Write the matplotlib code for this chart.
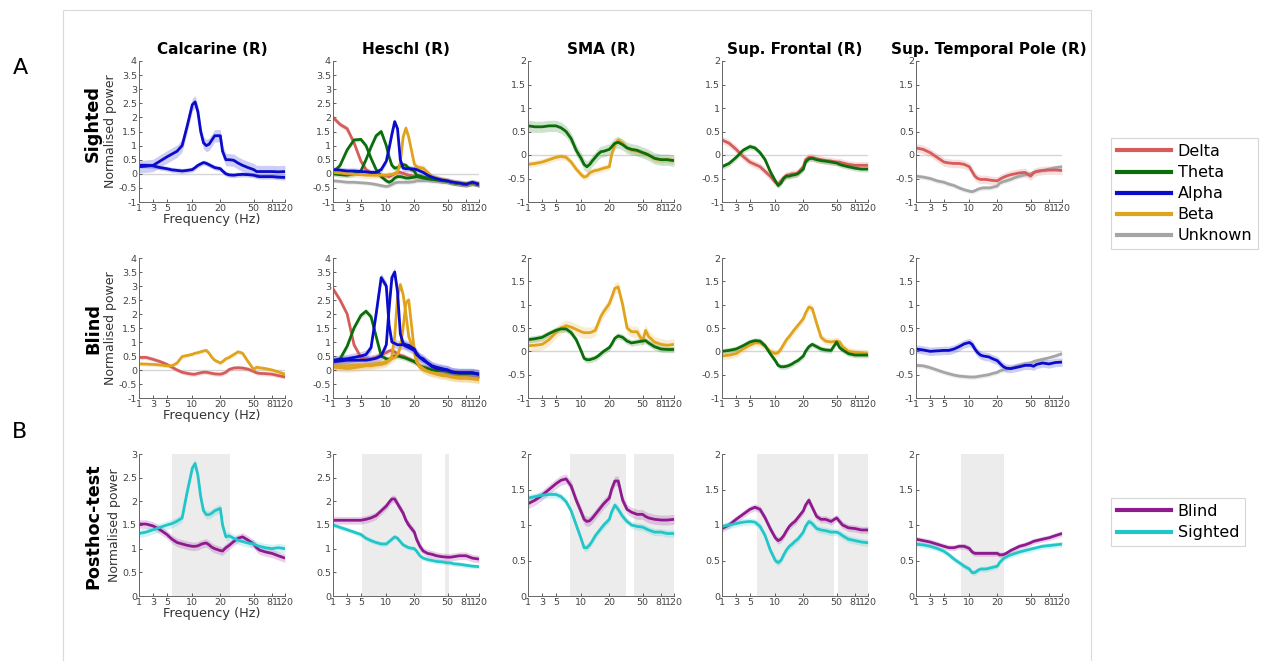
import numpy as np
import matplotlib
matplotlib.use("Agg")
import matplotlib.pyplot as plt
from matplotlib.patches import Rectangle
from matplotlib.lines import Line2D
from matplotlib.ticker import FuncFormatter

# frequency grid (Hz) on which all curves were read
F = [1, 2, 3, 4, 5, 6, 7, 8, 9, 10, 11, 12, 13, 14, 15, 16, 17, 18, 20, 22, 25, 28,
     32, 36, 40, 45, 50, 55, 60, 70, 81, 100, 120]

xtick_freqs = [1, 3, 5, 10, 20, 50, 81, 120]
xtick_pos = [0, .097, .191, .365, .557, .785, .911, 1]   # where the ticks sit along the axis

regions = ["Calcarine (R)", "Heschl (R)", "SMA (R)", "Sup. Frontal (R)", "Sup. Temporal Pole (R)"]
row_names = ["Sighted", "Blind", "Posthoc-test"]
band_names = ["Delta", "Theta", "Alpha", "Beta", "Unknown"]
group_names = ["Blind", "Sighted"]

# ---- sighted ----
s_calc_alpha1 = [0.25, 0.27, 0.3, 0.45, 0.6, 0.7, 0.8, 1.0, 1.7, 2.45, 2.55, 2.2, 1.5, 1.1, 1.0, 1.05, 1.2, 1.35, 1.35, 0.8, 0.5, 0.5,
                 0.48, 0.38, 0.3, 0.22, 0.15, 0.08, 0.08, 0.08, 0.08, 0.07, 0.08]
s_calc_alpha2 = [0.3, 0.3, 0.28, 0.22, 0.18, 0.14, 0.12, 0.1, 0.12, 0.15, 0.22, 0.3, 0.35, 0.4, 0.37, 0.32, 0.27, 0.22, 0.18, 0.1, 0.0, -0.04,
                 -0.05, -0.03, -0.02, -0.03, -0.05, -0.08, -0.1, -0.1, -0.1, -0.12, -0.13]

s_hes_delta = [2.0, 1.75, 1.6, 1.1, 0.45, 0.15, 0.02, -0.02, -0.05, -0.08, -0.1, -0.05, 0.0, 0.05, 0.05, 0.02, -0.02, -0.05, -0.08, -0.1, -0.1, -0.12,
               -0.15, -0.18, -0.2, -0.23, -0.25, -0.28, -0.3, -0.33, -0.35, -0.32, -0.35]
s_hes_theta1 = [0.05, 0.3, 0.85, 1.2, 1.22, 1.0, 0.55, 0.15, -0.1, -0.25, -0.3, -0.25, -0.15, -0.1, -0.1, -0.12, -0.15, -0.15, -0.12, -0.1, -0.12, -0.15,
                -0.18, -0.2, -0.22, -0.25, -0.27, -0.3, -0.32, -0.35, -0.38, -0.33, -0.4]
s_hes_theta2 = [0.0, -0.03, -0.05, 0.0, 0.1, 0.5, 0.95, 1.35, 1.5, 1.0, 0.6, 0.3, 0.2, 0.22, 0.28, 0.33, 0.3, 0.2, 0.1, -0.05, -0.08, -0.12,
                -0.15, -0.18, -0.2, -0.23, -0.26, -0.3, -0.32, -0.35, -0.37, -0.33, -0.38]
s_hes_alpha = [0.15, 0.13, 0.1, 0.1, 0.08, 0.07, 0.05, 0.05, 0.15, 0.45, 0.9, 1.4, 1.85, 1.6, 0.5, 0.2, 0.18, 0.18, 0.17, 0.15, 0.1, 0.05,
               -0.05, -0.12, -0.17, -0.22, -0.25, -0.28, -0.3, -0.33, -0.37, -0.3, -0.37]
s_hes_beta = [0.05, 0.03, 0.0, -0.02, -0.03, -0.05, -0.05, -0.05, -0.05, -0.05, -0.03, -0.02, 0.0, 0.05, 0.4, 1.3, 1.62, 1.3, 0.35, 0.25, 0.22, 0.2,
              0.05, -0.1, -0.15, -0.2, -0.25, -0.28, -0.3, -0.33, -0.36, -0.32, -0.36]
s_hes_unknown = [-0.25, -0.27, -0.3, -0.3, -0.32, -0.33, -0.35, -0.38, -0.42, -0.45, -0.43, -0.38, -0.33, -0.3, -0.3, -0.3, -0.3, -0.3, -0.28, -0.25, -0.25, -0.25,
                 -0.25, -0.27, -0.28, -0.3, -0.3, -0.32, -0.35, -0.38, -0.4, -0.36, -0.4]

s_sma_theta = [0.62, 0.6, 0.6, 0.62, 0.62, 0.58, 0.5, 0.35, 0.1, -0.08, -0.2, -0.25, -0.2, -0.12, -0.05, 0.02, 0.07, 0.08, 0.12, 0.17, 0.25, 0.27,
               0.22, 0.15, 0.12, 0.1, 0.05, 0.03, 0.0, -0.07, -0.1, -0.1, -0.12]
s_sma_beta = [-0.2, -0.18, -0.15, -0.1, -0.05, -0.03, -0.05, -0.15, -0.3, -0.42, -0.47, -0.45, -0.38, -0.35, -0.33, -0.32, -0.3, -0.28, -0.25, 0.0, 0.22, 0.32,
              0.25, 0.15, 0.1, 0.08, 0.05, 0.02, 0.0, -0.08, -0.1, -0.1, -0.12]

s_sf_delta = [0.32, 0.25, 0.12, -0.03, -0.15, -0.2, -0.25, -0.35, -0.45, -0.58, -0.62, -0.55, -0.48, -0.43, -0.42, -0.4, -0.4, -0.38, -0.25, -0.1, -0.05, -0.05,
              -0.08, -0.1, -0.12, -0.13, -0.15, -0.15, -0.17, -0.2, -0.22, -0.22, -0.22]
s_sf_theta = [-0.25, -0.18, -0.05, 0.1, 0.18, 0.15, 0.05, -0.1, -0.35, -0.55, -0.65, -0.6, -0.5, -0.45, -0.45, -0.43, -0.42, -0.4, -0.3, -0.15, -0.08, -0.07,
              -0.1, -0.12, -0.13, -0.15, -0.17, -0.2, -0.22, -0.25, -0.28, -0.3, -0.3]

s_stp_delta = [0.15, 0.12, 0.05, -0.05, -0.15, -0.17, -0.18, -0.18, -0.2, -0.25, -0.35, -0.45, -0.5, -0.52, -0.52, -0.52, -0.53, -0.54, -0.55, -0.52, -0.48, -0.45,
               -0.42, -0.4, -0.38, -0.37, -0.45, -0.38, -0.35, -0.33, -0.32, -0.32, -0.33]
s_stp_unknown = [-0.45, -0.47, -0.5, -0.55, -0.58, -0.62, -0.65, -0.7, -0.74, -0.77, -0.78, -0.76, -0.73, -0.71, -0.7, -0.7, -0.7, -0.69, -0.66, -0.6, -0.57, -0.55,
                 -0.52, -0.48, -0.45, -0.42, -0.4, -0.37, -0.35, -0.33, -0.3, -0.27, -0.25]

# ---- blind ----
b_calc_delta = [0.45, 0.45, 0.38, 0.3, 0.2, 0.1, 0.0, -0.08, -0.12, -0.15, -0.15, -0.12, -0.1, -0.08, -0.08, -0.1, -0.12, -0.14, -0.15, -0.13, -0.08, 0.02,
                0.07, 0.08, 0.07, 0.03, -0.05, -0.1, -0.12, -0.13, -0.15, -0.2, -0.25]
b_calc_beta = [0.22, 0.21, 0.2, 0.18, 0.15, 0.15, 0.25, 0.48, 0.52, 0.56, 0.6, 0.62, 0.65, 0.68, 0.7, 0.6, 0.45, 0.35, 0.25, 0.3, 0.4, 0.45,
               0.55, 0.65, 0.6, 0.3, 0.02, 0.1, 0.08, 0.05, 0.0, -0.07, -0.15]

b_hes_delta = [2.9, 2.5, 2.0, 0.9, 0.45, 0.4, 0.4, 0.45, 0.55, 0.62, 0.68, 0.7, 0.65, 0.58, 0.52, 0.5, 0.45, 0.4, 0.3, 0.25, 0.15, 0.1,
               0.05, 0.02, 0.0, 0.0, -0.02, -0.05, -0.08, -0.12, -0.12, -0.13, -0.18]
b_hes_theta = [0.3, 0.4, 0.85, 1.5, 1.95, 2.1, 1.9, 1.2, 0.5, 0.4, 0.38, 0.45, 0.5, 0.5, 0.48, 0.45, 0.42, 0.38, 0.3, 0.25, 0.15, 0.1,
               0.05, 0.0, -0.02, -0.02, -0.05, -0.08, -0.1, -0.12, -0.12, -0.12, -0.15]
b_hes_alpha1 = [0.35, 0.38, 0.4, 0.45, 0.5, 0.55, 0.8, 2.0, 3.3, 3.0, 1.6, 1.0, 0.95, 0.9, 0.9, 0.9, 0.85, 0.8, 0.7, 0.55, 0.45, 0.35,
                0.25, 0.15, 0.1, 0.05, 0.0, -0.05, -0.08, -0.1, -0.1, -0.1, -0.15]
b_hes_alpha2 = [0.3, 0.32, 0.35, 0.35, 0.35, 0.35, 0.38, 0.42, 0.5, 0.9, 2.2, 3.3, 3.5, 2.8, 1.3, 0.95, 0.9, 0.88, 0.75, 0.6, 0.45, 0.4,
                0.25, 0.12, 0.05, 0.02, 0.0, -0.05, -0.08, -0.1, -0.1, -0.1, -0.15]
b_hes_beta1 = [0.1, 0.08, 0.05, 0.08, 0.12, 0.15, 0.15, 0.18, 0.2, 0.25, 0.35, 0.5, 1.2, 2.6, 3.05, 2.7, 2.0, 1.2, 0.6, 0.3, 0.1, 0.0,
               -0.05, -0.1, -0.12, -0.15, -0.2, -0.23, -0.25, -0.27, -0.27, -0.3, -0.33]
b_hes_beta2 = [0.15, 0.15, 0.15, 0.17, 0.18, 0.18, 0.2, 0.22, 0.25, 0.3, 0.35, 0.4, 0.45, 0.55, 0.8, 1.5, 2.4, 2.5, 0.7, 0.35, 0.15, 0.05,
               -0.05, -0.1, -0.15, -0.2, -0.22, -0.25, -0.27, -0.3, -0.3, -0.32, -0.35]

b_sma_beta = [0.12, 0.13, 0.15, 0.25, 0.4, 0.5, 0.55, 0.52, 0.47, 0.42, 0.4, 0.4, 0.4, 0.42, 0.45, 0.6, 0.75, 0.85, 1.02, 1.15, 1.35, 1.38,
              1.0, 0.5, 0.42, 0.42, 0.22, 0.45, 0.32, 0.2, 0.15, 0.13, 0.15]
b_sma_theta = [0.25, 0.27, 0.3, 0.38, 0.45, 0.48, 0.48, 0.4, 0.25, 0.0, -0.15, -0.18, -0.18, -0.16, -0.14, -0.1, -0.05, 0.0, 0.08, 0.15, 0.28, 0.33,
               0.3, 0.22, 0.18, 0.2, 0.22, 0.23, 0.18, 0.1, 0.05, 0.04, 0.04]

b_sf_beta = [-0.1, -0.08, -0.05, 0.05, 0.13, 0.18, 0.18, 0.1, 0.0, -0.05, -0.03, 0.05, 0.15, 0.25, 0.32, 0.4, 0.48, 0.55, 0.7, 0.82, 0.95, 0.92,
             0.6, 0.3, 0.22, 0.2, 0.22, 0.2, 0.1, 0.0, -0.02, -0.03, -0.05]
b_sf_theta = [0.0, 0.02, 0.05, 0.12, 0.2, 0.23, 0.22, 0.12, -0.05, -0.2, -0.3, -0.33, -0.33, -0.32, -0.3, -0.27, -0.23, -0.2, -0.1, 0.0, 0.1, 0.15,
              0.1, 0.05, 0.03, 0.02, 0.2, 0.08, 0.03, -0.05, -0.08, -0.08, -0.08]

b_stp_alpha = [0.05, 0.03, 0.0, 0.01, 0.02, 0.02, 0.05, 0.1, 0.16, 0.19, 0.15, 0.05, -0.03, -0.08, -0.1, -0.11, -0.12, -0.15, -0.2, -0.25, -0.32, -0.36,
               -0.37, -0.35, -0.33, -0.3, -0.3, -0.32, -0.28, -0.25, -0.27, -0.24, -0.23]
b_stp_unknown = [-0.3, -0.31, -0.35, -0.4, -0.45, -0.48, -0.51, -0.53, -0.54, -0.55, -0.55, -0.55, -0.54, -0.53, -0.52, -0.51, -0.5, -0.48, -0.45, -0.42, -0.4, -0.38,
                 -0.36, -0.33, -0.3, -0.27, -0.25, -0.22, -0.2, -0.17, -0.14, -0.1, -0.05]

# ---- posthoc: blind vs sighted ----
p_calc_blind = [1.52, 1.52, 1.48, 1.4, 1.3, 1.2, 1.13, 1.1, 1.07, 1.05, 1.05, 1.06, 1.09, 1.11, 1.12, 1.08, 1.03, 1.0, 0.96, 0.95, 1.02, 1.07,
                1.15, 1.22, 1.25, 1.18, 1.1, 1.02, 0.97, 0.93, 0.9, 0.85, 0.8]
p_calc_sighted = [1.32, 1.35, 1.4, 1.45, 1.5, 1.53, 1.58, 1.65, 2.2, 2.7, 2.8, 2.55, 2.1, 1.8, 1.72, 1.72, 1.75, 1.8, 1.85, 1.5, 1.25, 1.27,
                  1.22, 1.18, 1.15, 1.12, 1.1, 1.07, 1.05, 1.02, 1.0, 1.02, 1.0]
p_hes_blind = [1.6, 1.6, 1.6, 1.6, 1.6, 1.62, 1.65, 1.7, 1.8, 1.9, 1.98, 2.05, 2.05, 1.95, 1.85, 1.75, 1.6, 1.5, 1.35, 1.2, 1.05, 0.95,
               0.9, 0.88, 0.85, 0.83, 0.82, 0.82, 0.83, 0.85, 0.85, 0.8, 0.78]
p_hes_sighted = [1.5, 1.45, 1.4, 1.35, 1.3, 1.22, 1.17, 1.13, 1.1, 1.1, 1.15, 1.2, 1.25, 1.22, 1.15, 1.08, 1.05, 1.02, 1.0, 0.95, 0.85, 0.8,
                 0.77, 0.75, 0.73, 0.72, 0.7, 0.7, 0.68, 0.67, 0.65, 0.63, 0.62]
p_sma_blind = [1.3, 1.35, 1.42, 1.5, 1.58, 1.63, 1.65, 1.55, 1.35, 1.18, 1.08, 1.05, 1.06, 1.1, 1.15, 1.2, 1.25, 1.3, 1.38, 1.5, 1.62, 1.62,
               1.35, 1.22, 1.18, 1.15, 1.15, 1.12, 1.1, 1.08, 1.07, 1.07, 1.08]
p_sma_sighted = [1.38, 1.4, 1.42, 1.43, 1.43, 1.4, 1.33, 1.2, 1.0, 0.8, 0.68, 0.68, 0.72, 0.78, 0.85, 0.9, 0.95, 1.0, 1.08, 1.18, 1.28, 1.22,
                 1.12, 1.05, 1.0, 0.98, 0.97, 0.95, 0.93, 0.9, 0.9, 0.88, 0.88]
p_sf_blind = [0.95, 1.0, 1.08, 1.15, 1.22, 1.25, 1.22, 1.1, 0.95, 0.82, 0.78, 0.8, 0.85, 0.92, 0.98, 1.02, 1.05, 1.1, 1.2, 1.28, 1.35, 1.25,
              1.12, 1.08, 1.08, 1.05, 1.1, 1.05, 1.0, 0.96, 0.95, 0.93, 0.93]
p_sf_sighted = [0.98, 1.0, 1.02, 1.04, 1.05, 1.04, 0.98, 0.85, 0.65, 0.5, 0.47, 0.5, 0.58, 0.65, 0.7, 0.73, 0.77, 0.8, 0.9, 0.98, 1.05, 1.02,
                0.95, 0.93, 0.92, 0.9, 0.9, 0.88, 0.85, 0.8, 0.78, 0.76, 0.75]
p_stp_blind = [0.8, 0.78, 0.76, 0.73, 0.7, 0.68, 0.68, 0.7, 0.7, 0.67, 0.62, 0.6, 0.6, 0.6, 0.6, 0.6, 0.6, 0.6, 0.6, 0.58, 0.58, 0.6,
               0.64, 0.67, 0.7, 0.72, 0.75, 0.77, 0.78, 0.8, 0.82, 0.85, 0.88]
p_stp_sighted = [0.73, 0.72, 0.7, 0.67, 0.63, 0.58, 0.52, 0.47, 0.42, 0.38, 0.33, 0.33, 0.36, 0.38, 0.38, 0.38, 0.39, 0.4, 0.42, 0.47, 0.52, 0.55,
                 0.58, 0.6, 0.62, 0.64, 0.66, 0.67, 0.68, 0.7, 0.71, 0.72, 0.73]

# significant frequency ranges (Hz) in the posthoc row
sig_calc = [(6, 29)]
sig_hes = [(5.2, 26.5), (48, 53)]
sig_sma = [(7.8, 35), (42, 120)]
sig_sf = [(6.4, 48), (52, 120)]
sig_stp = [(8.3, 25.7)]

C = {"Delta": "#d65c5c", "Theta": "#0b6e0b", "Alpha": "#0b0bcc", "Beta": "#e0a31e",
     "Unknown": "#a5a5a5", "Blind": "#8e1a8e", "Sighted": "#22c6c9"}

panels = [
    [[(s_calc_alpha1, "Alpha", 0.22), (s_calc_alpha2, "Alpha", 0.09)],
     [(s_hes_unknown, "Unknown", 0.07), (s_hes_delta, "Delta", 0.1), (s_hes_theta1, "Theta", 0.08),
      (s_hes_theta2, "Theta", 0.09), (s_hes_beta, "Beta", 0.11), (s_hes_alpha, "Alpha", 0.11)],
     [(s_sma_beta, "Beta", 0.07), (s_sma_theta, "Theta", 0.12)],
     [(s_sf_delta, "Delta", 0.08), (s_sf_theta, "Theta", 0.06)],
     [(s_stp_unknown, "Unknown", 0.05), (s_stp_delta, "Delta", 0.09)]],
    [[(b_calc_delta, "Delta", 0.08), (b_calc_beta, "Beta", 0.07)],
     [(b_hes_delta, "Delta", 0.1), (b_hes_theta, "Theta", 0.1), (b_hes_beta1, "Beta", 0.14),
      (b_hes_beta2, "Beta", 0.14), (b_hes_alpha1, "Alpha", 0.16), (b_hes_alpha2, "Alpha", 0.16)],
     [(b_sma_beta, "Beta", 0.12), (b_sma_theta, "Theta", 0.07)],
     [(b_sf_beta, "Beta", 0.08), (b_sf_theta, "Theta", 0.06)],
     [(b_stp_unknown, "Unknown", 0.05), (b_stp_alpha, "Alpha", 0.09)]],
    [[(p_calc_blind, "Blind", 0.09), (p_calc_sighted, "Sighted", 0.09)],
     [(p_hes_blind, "Blind", 0.08), (p_hes_sighted, "Sighted", 0.05)],
     [(p_sma_blind, "Blind", 0.07), (p_sma_sighted, "Sighted", 0.05)],
     [(p_sf_blind, "Blind", 0.05), (p_sf_sighted, "Sighted", 0.05)],
     [(p_stp_blind, "Blind", 0.04), (p_stp_sighted, "Sighted", 0.04)]],
]
sig_ranges = [sig_calc, sig_hes, sig_sma, sig_sf, sig_stp]


def fwd(f):
    return np.interp(f, xtick_freqs, xtick_pos)


def inv(p):
    return np.interp(p, xtick_pos, xtick_freqs)


W, H = 1261, 661
fig = plt.figure(figsize=(W / 100, H / 100), dpi=100)
plt.rcParams["font.family"] = "DejaVu Sans"

lefts = [139, 333, 528, 722, 916]
rows_px = [(61, 202), (258, 398), (454, 596)]

fig.patches.append(Rectangle((63 / W, -0.01), (1091 - 63) / W, (H - 10) / H + 0.01,
                             transform=fig.transFigure, fill=False, ec="#dadada", lw=0.8))

for r in range(3):
    top, bot = rows_px[r]
    for c in range(5):
        ax = fig.add_axes([lefts[c] / W, 1 - bot / H, 146 / W, (bot - top) / H])
        ax.set_xscale("function", functions=(fwd, inv))
        if r < 2:
            lo, hi = (-1, 4) if c < 2 else (-1, 2)
            ax.axhline(0, color="#d6d6d6", lw=1, zorder=0)
        else:
            lo, hi = (0, 3) if c < 2 else (0, 2)
            for a, b in sig_ranges[c]:
                ax.axvspan(a, b, color="#ececec", lw=0, zorder=0)
        for vals, name, sem in panels[r][c]:
            v = np.array(vals)
            ax.fill_between(F, v - sem, v + sem, color=C[name], alpha=0.2, lw=0)
            ax.plot(F, v, color=C[name], lw=2.0, solid_capstyle="butt")
        ax.set_xlim(1, 120)
        ax.set_ylim(lo, hi)
        ax.set_xticks(xtick_freqs)
        ax.set_xticklabels([str(f) for f in xtick_freqs])
        ax.set_yticks(np.arange(lo, hi + 0.01, 0.5))
        ax.yaxis.set_major_formatter(FuncFormatter(lambda v, p: f"{v:g}"))
        ax.minorticks_off()
        for s in ["top", "right"]:
            ax.spines[s].set_visible(False)
        for s in ["left", "bottom"]:
            ax.spines[s].set_color("#666666")
            ax.spines[s].set_linewidth(0.7)
        ax.tick_params(direction="in", length=2, width=0.6, labelsize=6.8,
                       colors="#444444", pad=1.5)
        if r == 0:
            ax.set_title(regions[c], fontsize=11, fontweight="bold", pad=5)
        if c == 0:
            ax.set_ylabel("Normalised power", fontsize=9, color="#333333", labelpad=1)
            ax.set_xlabel("Frequency (Hz)", fontsize=9.3, color="#333333", labelpad=0)

row_label_y = [123, 328, 526]
for r in range(3):
    fig.text(93 / W, 1 - row_label_y[r] / H, row_names[r], rotation=90, fontsize=12.7,
             fontweight="bold", ha="center", va="center")

fig.text(20 / W, 1 - 68 / H, "A", fontsize=16, ha="center", va="center")
fig.text(20 / W, 1 - 432 / H, "B", fontsize=16, ha="center", va="center")

leg_kw = dict(loc="upper left", fontsize=11.5, frameon=True, fancybox=False, handlelength=3.4,
              handletextpad=0.4, labelspacing=0.38, borderpad=0.38, borderaxespad=0)
h1 = [Line2D([], [], color=C[n], lw=3) for n in band_names]
l1 = fig.legend(h1, band_names, bbox_to_anchor=(1111 / W, 1 - 138 / H), **leg_kw)
l1.get_frame().set_edgecolor("#cccccc")
l1.get_frame().set_linewidth(0.8)
h2 = [Line2D([], [], color=C[n], lw=3) for n in group_names]
l2 = fig.legend(h2, group_names, bbox_to_anchor=(1111 / W, 1 - 498 / H), **leg_kw)
l2.get_frame().set_edgecolor("#cccccc")
l2.get_frame().set_linewidth(0.8)

fig.savefig("out.png", dpi=100, facecolor="white")
